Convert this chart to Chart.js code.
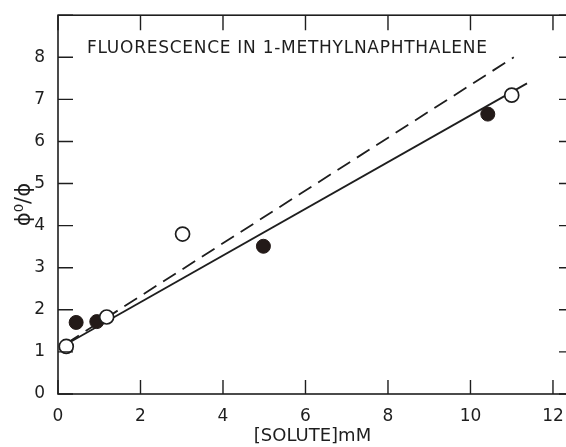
<!DOCTYPE html>
<html>
<head>
<meta charset="utf-8">
<script src="https://cdn.jsdelivr.net/npm/chart.js@4"></script>
<style>
html,body{margin:0;padding:0;background:#fff;overflow:hidden;width:566px;height:447px;}
canvas{display:block;}
</style>
</head>
<body>
<canvas id="c" width="580" height="447"></canvas>
<script>
// Data
const openX = [0.2, 1.18, 3.02, 11.0];
const openY = [1.13, 1.83, 3.8, 7.1];
const filledX = [0.44, 0.94, 4.98, 10.42];
const filledY = [1.7, 1.72, 3.51, 6.65];
const solidLineX = [0.05, 11.37];
const solidLineY = [1.1, 7.38];
const dashedLineX = [0.2, 11.05];
const dashedLineY = [1.2, 8.0];
const xTickValues = [0, 2, 4, 6, 8, 10, 12];
const yTickValues = [0, 1, 2, 3, 4, 5, 6, 7, 8];
const yMinorTicks = [0, 1, 2, 3, 4, 5, 6, 7, 8, 9];
const chartTitle = "FLUORESCENCE IN 1-METHYLNAPHTHALENE";
const xTitle = "[SOLUTE]mM";
const yTitle = "ϕ⁰/ϕ";

const FONT = "'DejaVu Sans', sans-serif";
const toPts = (xs, ys) => xs.map((x, i) => ({x: x, y: ys[i]}));

const framePlugin = {
  id: 'frame',
  afterDatasetsDraw(chart) {
    const {ctx, chartArea: a, scales} = chart;
    ctx.save();
    ctx.strokeStyle = '#1e1e1e';
    ctx.lineWidth = 1.6;
    ctx.strokeRect(a.left, a.top, a.right - a.left, a.bottom - a.top);
    // inward tick marks
    ctx.lineWidth = 1.4;
    ctx.beginPath();
    xTickValues.forEach(v => {
      const px = scales.x.getPixelForValue(v);
      ctx.moveTo(px, a.bottom); ctx.lineTo(px, a.bottom - 14);
      ctx.moveTo(px, a.top); ctx.lineTo(px, a.top + 15);
    });
    yMinorTicks.forEach(v => {
      const py = scales.y.getPixelForValue(v);
      ctx.moveTo(a.left, py); ctx.lineTo(a.left + 15, py);
      ctx.moveTo(a.right, py); ctx.lineTo(a.right - 8, py);
    });
    ctx.stroke();
    // title inside plot
    ctx.fillStyle = '#1e1e1e';
    ctx.font = '17px ' + FONT;
    ctx.textBaseline = 'middle';
    ctx.textAlign = 'left';
    const w = ctx.measureText(chartTitle).width;
    const sp = (400 - w) / (chartTitle.length - 1);
    ctx.letterSpacing = sp + 'px';
    ctx.fillText(chartTitle, a.left + 29, a.top + 33);
    ctx.restore();
  }
};

new Chart(document.getElementById('c'), {
  type: 'scatter',
  data: {
    datasets: [
      {
        label: 'open',
        data: toPts(openX, openY),
        pointRadius: 7,
        pointHoverRadius: 7,
        pointBackgroundColor: '#fff',
        pointBorderColor: '#1e1e1e',
        pointBorderWidth: 1.7,
        order: 1
      },
      {
        label: 'filled',
        data: toPts(filledX, filledY),
        pointRadius: 7,
        pointHoverRadius: 7,
        pointBackgroundColor: '#231a18',
        pointBorderColor: '#231a18',
        pointBorderWidth: 1,
        order: 1
      },
      {
        label: 'solid',
        type: 'line',
        data: toPts(solidLineX, solidLineY),
        borderColor: '#1e1e1e',
        borderWidth: 1.8,
        pointRadius: 0,
        fill: false,
        order: 3
      },
      {
        label: 'dashed',
        type: 'line',
        data: toPts(dashedLineX, dashedLineY),
        borderColor: '#1e1e1e',
        borderWidth: 1.8,
        borderDash: [15, 8],
        pointRadius: 0,
        fill: false,
        order: 3
      }
    ]
  },
  options: {
    responsive: false,
    animation: false,
    devicePixelRatio: 1,
    layout: {padding: {top: 13, right: 13, left: 0, bottom: 0}},
    plugins: {legend: {display: false}, tooltip: {enabled: false}},
    scales: {
      x: {
        type: 'linear',
        min: 0,
        max: 12.34,
        grid: {display: false},
        border: {display: false},
        afterFit(s) { s.height = 53; },
        afterBuildTicks(s) { s.ticks = xTickValues.map(v => ({value: v})); },
        ticks: {
          color: '#1e1e1e',
          font: {family: FONT, size: 17},
          padding: 4,
          maxRotation: 0,
          callback: v => String(v)
        },
        title: {
          display: true,
          text: xTitle,
          color: '#1e1e1e',
          font: {family: FONT, size: 18},
          padding: {top: 1, bottom: 0}
        }
      },
      y: {
        type: 'linear',
        min: 0,
        max: 9,
        grid: {display: false},
        border: {display: false},
        afterFit(s) { s.width = 58; },
        afterBuildTicks(s) { s.ticks = yTickValues.map(v => ({value: v})); },
        ticks: {
          color: '#1e1e1e',
          font: {family: FONT, size: 17},
          padding: 5,
          callback: v => String(v)
        },
        title: {
          display: true,
          text: yTitle,
          color: '#1e1e1e',
          font: {family: FONT, size: 21},
          padding: {top: 12, bottom: 0}
        }
      }
    }
  },
  plugins: [framePlugin]
});
</script>
</body>
</html>
